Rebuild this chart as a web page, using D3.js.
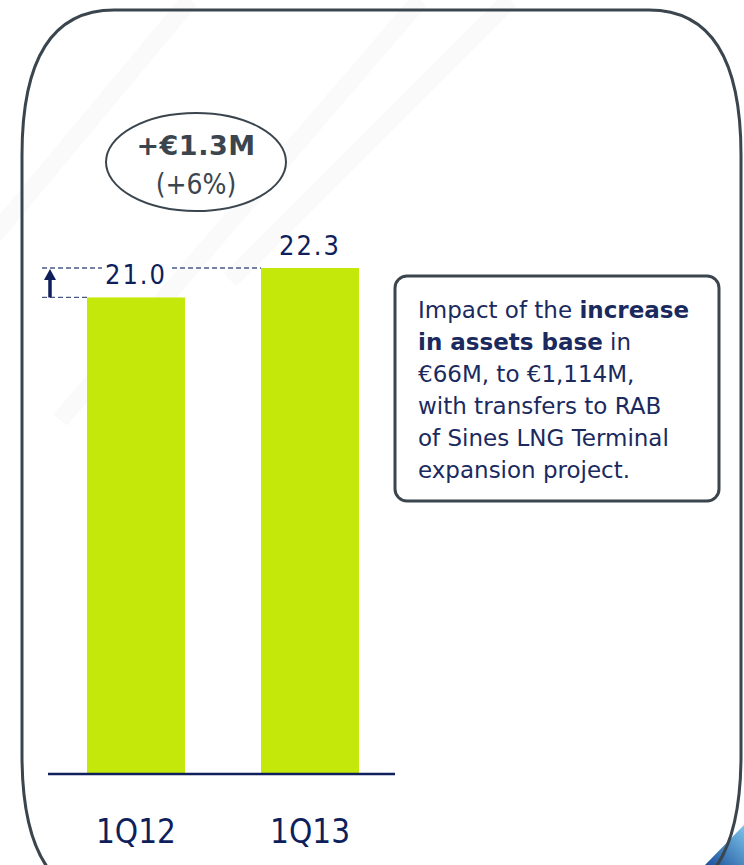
<!DOCTYPE html>
<html><head><meta charset="utf-8">
<script src="https://cdn.jsdelivr.net/npm/d3@7"></script>
<style>html,body{margin:0;padding:0;background:#fff;}svg{display:block;}</style>
</head><body>
<script>
const categories = ["1Q12", "1Q13"];
const values = [21.0, 22.3];
const valueLabels = ["21.0", "22.3"];
const deltaLabel = "+€1.3M";
const pctLabel = "(+6%)";
const noteLines = [
  [["Impact of the ", false], ["increase", true]],
  [["in assets base", true], [" in", false]],
  [["€66M, to €1,114M,", false]],
  [["with transfers to RAB", false]],
  [["of Sines LNG Terminal", false]],
  [["expansion project.", false]]
];

const W = 744, H = 865;
const navy = "#0f1f5c", dark = "#3b454e", green = "#c5e80b";
const fontC = "'DejaVu Sans Condensed','DejaVu Sans',sans-serif";
const font = "'DejaVu Sans',sans-serif";
const svg = d3.select("body").append("svg").attr("width", W).attr("height", H);

const defs = svg.append("defs");
const g1 = defs.append("linearGradient").attr("id","corner").attr("x1","0").attr("y1","1").attr("x2","1").attr("y2","0");
g1.append("stop").attr("offset","0").attr("stop-color","#1b4f9a");
g1.append("stop").attr("offset","1").attr("stop-color","#7cc4ea");
[[190,0,-60,300],[420,0,60,420],[510,0,230,280]].forEach(s=>{
  svg.append("line").attr("x1",s[0]).attr("y1",s[1]).attr("x2",s[2]).attr("y2",s[3])
    .attr("stroke","#fafafb").attr("stroke-width",18);
});
svg.append("path").attr("d","M705,865 L744,825 L744,865 Z").attr("fill","url(#corner)");

const L=22, T=10, R=741, B=900;
svg.append("path").attr("d",
  `M${L+92},${T} L${R-92},${T} Q${R},${T} ${R},${T+145} L${R},${B-145} Q${R},${B} ${R-92},${B} L${L+92},${B} Q${L},${B} ${L},${B-145} L${L},${T+145} Q${L},${T} ${L+92},${T} Z`)
  .attr("fill","none").attr("stroke",dark).attr("stroke-width",3);

const x = d3.scaleBand().domain(categories).range([48,398]).paddingInner(0.437).paddingOuter(0.224);
const y = d3.scaleLinear().domain([0, 22.3]).range([773, 268]);

svg.selectAll("rect.bar").data(values).enter().append("rect")
  .attr("x",(d,i)=>x(categories[i])).attr("width",x.bandwidth())
  .attr("y",d=>y(d)).attr("height",d=>y(0)-y(d)).attr("fill",green);

svg.append("line").attr("x1",48).attr("x2",395).attr("y1",y(0)+1).attr("y2",y(0)+1)
  .attr("stroke",navy).attr("stroke-width",2.5);

svg.selectAll("text.cat").data(categories).enter().append("text")
  .attr("x",d=>x(d)+x.bandwidth()/2).attr("y",843).attr("text-anchor","middle")
  .attr("font-family",fontC).attr("font-size",33).attr("fill",navy).text(d=>d);

svg.selectAll("text.val").data(values).enter().append("text")
  .attr("x",(d,i)=>x(categories[i])+x.bandwidth()/2).attr("y",d=>y(d)-13)
  .attr("text-anchor","middle").attr("font-family",fontC).attr("font-size",27)
  .attr("letter-spacing",2).attr("fill",navy).text((d,i)=>valueLabels[i]);

const dash = {stroke:"#4a5a8a","stroke-width":1.3,"stroke-dasharray":"5,3"};
function dl(x1,x2,yy){const l=svg.append("line").attr("x1",x1).attr("x2",x2).attr("y1",yy).attr("y2",yy);Object.entries(dash).forEach(([k,v])=>l.attr(k,v));}
dl(42, x(categories[0]), y(values[0]));
dl(42, 102, y(values[1]));
dl(172, x(categories[1]), y(values[1]));

svg.append("line").attr("x1",50).attr("x2",50).attr("y1",y(values[0])).attr("y2",y(values[1])+10)
  .attr("stroke",navy).attr("stroke-width",3.5);
svg.append("path").attr("d",`M44,${y(values[1])+12} L50,${y(values[1])+1} L56,${y(values[1])+12} Z`).attr("fill",navy);

svg.append("ellipse").attr("cx",196).attr("cy",162).attr("rx",90).attr("ry",49)
  .attr("fill","#fff").attr("stroke",dark).attr("stroke-width",2);
svg.append("text").attr("x",196).attr("y",155).attr("text-anchor","middle")
  .attr("font-family",font).attr("font-size",27).attr("font-weight","bold").attr("letter-spacing",0.5).attr("fill",dark).text(deltaLabel);
svg.append("text").attr("x",196).attr("y",194).attr("text-anchor","middle")
  .attr("font-family",fontC).attr("font-size",28).attr("fill",dark).text(pctLabel);

svg.append("rect").attr("x",395).attr("y",276).attr("width",324).attr("height",225).attr("rx",12)
  .attr("fill","#fff").attr("stroke",dark).attr("stroke-width",3);
noteLines.forEach((line,i)=>{
  const t = svg.append("text").attr("x",418).attr("y",318+i*32)
    .attr("font-family",font).attr("font-size",23).attr("fill","#1a2a5e");
  line.forEach(([s,b])=>t.append("tspan").attr("font-weight",b?"bold":"normal").text(s));
});
</script>
</body></html>
